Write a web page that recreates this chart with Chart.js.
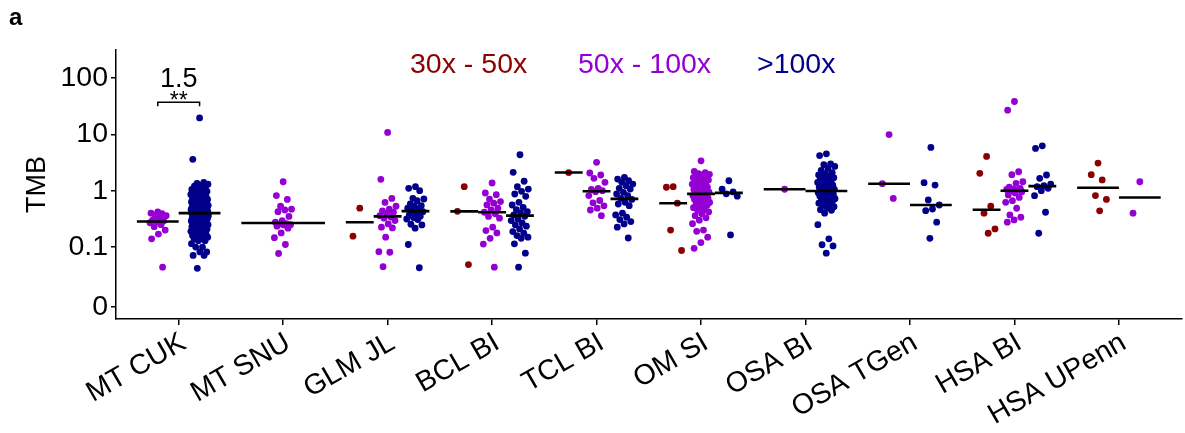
<!DOCTYPE html>
<html><head><meta charset="utf-8">
<script src="https://cdn.jsdelivr.net/npm/chart.js@4.4.1/dist/chart.umd.min.js"></script>
<style>html,body{margin:0;padding:0;background:#fff;}#wrap{width:1185px;height:433px;position:relative;}</style>
</head><body><div id="wrap"><canvas id="c" width="1185" height="433"></canvas></div>
<script>
const categories = ['MT CUK','MT SNU','GLM JL','BCL BI','TCL BI','OM SI','OSA BI','OSA TGen','HSA BI','HSA UPenn'];
const coverageGroups = ['30x - 50x','50x - 100x','>100x'];
const groupColors = ['#8B0000','#9400D3','#00008B'];

// TMB values, 30x - 50x coverage, one list per category
const tmbLow = [
  [],
  [],
  [0.49,0.156],
  [1.18,0.43,0.049],
  [2.1],
  [1.18,1.15,0.60,0.20,0.087],
  [],
  [],
  [4.06,2.03,0.53,0.40,0.21,0.176],
  [3.09,1.92,1.55,0.82,0.70,0.44]
];
// TMB values, 50x - 100x coverage
const tmbMid = [
  [0.42,0.40,0.39,0.37,0.36,0.33,0.30,0.29,0.28,0.27,0.25,0.23,0.20,0.17,0.14,0.044],
  [1.44,0.82,0.70,0.53,0.47,0.455,0.425,0.35,0.295,0.276,0.26,0.257,0.25,0.247,0.235,0.216,0.178,0.147,0.111,0.077],
  [10.8,1.59,0.73,0.62,0.53,0.47,0.44,0.415,0.39,0.36,0.34,0.325,0.295,0.257,0.225,0.219,0.15,0.083,0.081,0.045],
  [1.37,0.91,0.85,0.71,0.64,0.60,0.56,0.49,0.455,0.415,0.39,0.35,0.325,0.225,0.196,0.178,0.143,0.113,0.044],
  [3.18,2.06,1.9,1.66,1.41,1.10,1.05,1.0,0.96,0.82,0.67,0.61,0.54,0.49,0.455,0.36],
  [3.39,2.2,2.1,2.0,1.95,1.9,1.85,1.8,1.75,1.7,1.65,1.6,1.55,1.5,1.45,1.4,1.35,1.3,1.25,1.2,1.15,1.1,1.05,1.0,0.97,0.94,0.91,0.9,0.88,0.85,0.82,0.8,0.77,0.74,0.72,0.7,0.67,0.64,0.62,0.6,0.57,0.55,0.52,0.5,0.47,0.45,0.42,0.39,0.36,0.33,0.3,0.26,0.2,0.19,0.15,0.12,0.095],
  [1.06],
  [9.9,1.33,0.73],
  [38.2,26.8,2.17,1.92,1.44,1.35,1.15,1.1,1.07,1.05,1.03,1.0,0.96,0.91,0.84,0.76,0.665,0.623,0.488,0.371,0.338,0.303,0.276],
  [1.44,0.40]
];
// TMB values, >100x coverage
const tmbHigh = [
  [19.5,3.6,1.4,1.35,1.3,1.25,1.2,1.15,1.1,1.05,1.0,0.98,0.97,0.95,0.92,0.9,0.88,0.86,0.85,0.83,0.8,0.78,0.76,0.74,0.72,0.7,0.69,0.68,0.66,0.65,0.63,0.62,0.61,0.6,0.59,0.58,0.57,0.56,0.55,0.54,0.53,0.53,0.52,0.51,0.5,0.49,0.48,0.48,0.47,0.47,0.46,0.46,0.45,0.45,0.44,0.44,0.43,0.43,0.42,0.42,0.41,0.41,
   0.41,0.40,0.40,0.39,0.39,0.38,0.38,0.37,0.37,0.36,0.36,0.35,0.35,0.34,0.34,0.33,0.33,0.32,0.32,0.31,0.31,0.30,0.30,0.29,0.29,0.28,0.28,0.27,0.27,0.26,0.26,0.25,0.25,0.24,0.24,0.23,0.23,0.22,0.22,0.21,0.21,0.20,0.20,0.19,0.19,0.18,0.18,0.17,0.17,0.16,0.16,0.15,0.15,0.14,0.14,0.13,0.13,
   0.115,0.10,0.10,0.082,0.082,0.071,0.071,0.042],
  [],
  [1.18,1.10,1.0,0.733,0.713,0.665,0.581,0.543,0.53,0.488,0.461,0.443,0.425,0.398,0.371,0.352,0.333,0.315,0.307,0.254,0.247,0.216,0.111,0.043],
  [4.34,2.12,1.47,1.18,1.07,0.975,0.874,0.796,0.623,0.558,0.508,0.461,0.425,0.403,0.371,0.352,0.315,0.295,0.268,0.247,0.235,0.21,0.188,0.176,0.16,0.15,0.143,0.114,0.078,0.044],
  [1.73,1.61,1.50,1.41,1.31,1.23,1.10,1.07,0.937,0.874,0.816,0.733,0.70,0.623,0.581,0.543,0.40,0.371,0.338,0.307,0.283,0.257,0.225,0.145],
  [1.50,1.07,0.95,0.88,0.80,0.164],
  [4.5,4.2,3.0,2.9,2.7,2.5,2.3,2.1,2.0,1.9,1.85,1.8,1.7,1.65,1.6,1.5,1.45,1.4,1.35,1.3,1.25,1.2,1.15,1.1,1.08,1.05,1.02,1.0,0.98,0.95,0.92,0.9,0.87,0.85,0.82,0.8,0.77,0.75,0.72,0.7,0.68,0.65,0.62,0.6,0.57,0.55,0.52,0.5,0.46,0.45,0.4,0.25,0.14,0.11,0.105,0.078],
  [5.86,1.39,1.26,0.684,0.558,0.474,0.443,0.276,0.143],
  [6.26,5.63,1.9,1.66,1.31,1.23,1.18,1.10,1.0,0.816,0.415,0.176],
  []
];
const yTickValues = [0.0087,0.1,1,10,100];
const yTickLabels = ['0','0.1','1','10','100'];
const comparisonLabel = '1.5';
const significanceLabel = '**';

const series = [tmbLow, tmbMid, tmbHigh];
function logMedian(arr){
  const s = arr.map(v=>Math.log10(v)).sort((a,b)=>a-b);
  const n = s.length, m = n%2 ? s[(n-1)/2] : (s[n/2-1]+s[n/2])/2;
  return Math.pow(10,m);
}
const pointSets = groupColors.map((c,gi)=>({type:'scatter',label:coverageGroups[gi],data:[],backgroundColor:c,borderWidth:0,pointRadius:3.4,pointHoverRadius:3.4,order:2}));
const medianSets = [];
const JIT = 0.085;
categories.forEach((cat,ci)=>{
  const present = [0,1,2].filter(gi=>series[gi][ci].length>0);
  const n = present.length;
  present.forEach((gi,k)=>{
    const left = ci+1-0.4+0.8*k/n, right = ci+1-0.4+0.8*(k+1)/n, center=(left+right)/2;
    series[gi][ci].forEach((v,j)=>{
      const f = (0.5 + j*0.6180339887) % 1;
      pointSets[gi].data.push({x:center + JIT*(2*f-1), y:v});
    });
    const med = logMedian(series[gi][ci]);
    medianSets.push({type:'line',data:[{x:left,y:med},{x:right,y:med}],borderColor:'#000',borderWidth:2.6,pointRadius:0,showLine:true,fill:false,order:1});
  });
});

const FONT = '"Liberation Sans", Arial, Helvetica, sans-serif';
const overlay = {
  id:'overlay',
  afterDraw(chart){
    const ctx = chart.ctx, xs = chart.scales.x, ys = chart.scales.y;
    ctx.save();
    ctx.fillStyle = '#000';
    ctx.font = 'bold 24px ' + FONT;
    ctx.textAlign = 'left'; ctx.textBaseline = 'alphabetic';
    ctx.fillText('a', 9, 25);
    // legend
    ctx.font = '28.5px ' + FONT;
    const lx = [410, 578, 757];
    coverageGroups.forEach((g,i)=>{ ctx.fillStyle = groupColors[i]; ctx.fillText(g, lx[i], 73); });
    // significance bracket
    const x1 = xs.getPixelForValue(0.8), x2 = xs.getPixelForValue(1.2);
    const yb = ys.getPixelForValue(37);
    ctx.strokeStyle = '#000'; ctx.lineWidth = 1.5;
    ctx.beginPath();
    ctx.moveTo(x1, yb+4); ctx.lineTo(x1, yb); ctx.lineTo(x2, yb); ctx.lineTo(x2, yb+4);
    ctx.stroke();
    ctx.fillStyle = '#000';
    ctx.textAlign = 'center';
    ctx.font = '23px ' + FONT;
    ctx.fillText(significanceLabel, (x1+x2)/2, yb+6);
    ctx.font = '27px ' + FONT;
    ctx.fillText(comparisonLabel, (x1+x2)/2, yb-15);
    ctx.restore();
  }
};

new Chart(document.getElementById('c'), {
  data:{datasets:[...medianSets, ...pointSets]},
  options:{
    responsive:false, animation:false, devicePixelRatio:1,
    layout:{padding:{left:0,right:0,top:50,bottom:0}},
    plugins:{legend:{display:false}, tooltip:{enabled:false}},
    scales:{
      x:{type:'linear', min:0.4, max:10.6,
        afterBuildTicks(s){ s.ticks = categories.map((c,i)=>({value:i+1})); },
        afterFit(s){ s.height = 114; },
        ticks:{callback:(v)=>categories[Math.round(v)-1], autoSkip:false, maxRotation:30, minRotation:30, color:'#000', font:{size:28.5, family:FONT}, padding:1, labelOffset:5},
        grid:{display:true, drawOnChartArea:false, drawTicks:true, tickLength:6, color:'#000', lineWidth:1.5},
        border:{display:true, color:'#000', width:1.5}
      },
      y:{type:'logarithmic', min:0.0053, max:313,
        afterBuildTicks(s){ s.ticks = yTickValues.map(v=>({value:v})); },
        afterFit(s){ s.width = 116; },
        ticks:{callback:(v)=>{const i=yTickValues.findIndex(t=>Math.abs(t-v)<1e-9); return i>=0?yTickLabels[i]:'';}, color:'#000', font:{size:28.5, family:FONT}, padding:3},
        grid:{display:true, drawOnChartArea:false, drawTicks:true, tickLength:5, color:'#000', lineWidth:1.5},
        border:{display:true, color:'#000', width:1.5},
        title:{display:true, text:'TMB', color:'#000', font:{size:27, family:FONT}, padding:{top:21,bottom:0}}
      }
    }
  },
  plugins:[overlay]
});
</script></body></html>
